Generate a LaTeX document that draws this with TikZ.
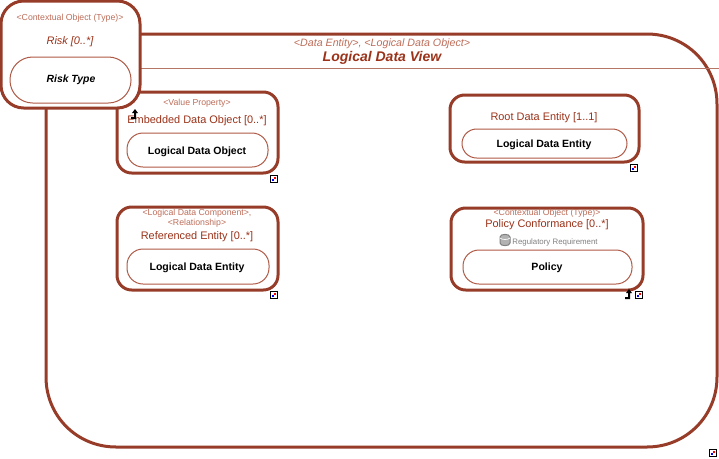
\documentclass[tikz,border=0pt]{standalone}
\usepackage{fontspec}
\usepackage{xcolor}
\setmainfont{Liberation Sans}
\definecolor{rust}{RGB}{150,60,40}
\definecolor{rustline}{RGB}{175,90,70}
\definecolor{rusttext}{RGB}{155,50,25}
\definecolor{stereo}{RGB}{190,110,90}
\tikzset{
  outerbox/.style={draw=rust,line width=2.25pt,fill=white},
  pillbox/.style={draw=rustline,line width=0.75pt,fill=white},
  stereotext/.style={text=stereo,font=\fontsize{6.55}{7.5}\selectfont,align=center,inner sep=0pt},
  roletext/.style={text=rusttext,font=\fontsize{8.2}{9}\selectfont,align=center,inner sep=0pt},
  typetext/.style={text=black,font=\fontsize{7.9}{9}\selectfont\bfseries,align=center,inner sep=0pt},
  linkmark/.pic={
    \draw[black,line width=0.75pt,fill=white] (-3.5,-3.5) rectangle (3.5,3.5);
    \fill[blue] (-2,-2) rectangle (0,0);
    \fill[red] (0,0) rectangle (2,2);
  },
  upmark/.pic={
    \fill[black] (-4,-2) -- (-1,-2) -- (-1,2) -- (-3,2) -- (0,6) -- (3,2) -- (1,2) -- (1,-4) -- (-4,-4) -- cycle;
  }
}
\begin{document}
\begin{tikzpicture}[x=0.75pt,y=0.75pt,yscale=-1,xscale=1]
\useasboundingbox (0,0) rectangle (719,458);

%Shape: Rounded Rect, view frame
\draw [outerbox] (46,104) .. controls (46,65) and (77,34) .. (116,34) -- (647,34) .. controls (686,34) and (717,65) .. (717,104) -- (717,377) .. controls (717,416) and (686,447) .. (647,447) -- (116,447) .. controls (77,447) and (46,416) .. (46,377) -- cycle ;
%Straight Lines, header rule
\draw [draw=rust!70,line width=0.75pt] (46,68.5) -- (719,68.5) ;

% Text Node
\draw (382,44) node (viewstereo) [stereotext,font=\fontsize{8}{9}\selectfont\itshape] {<Data Entity>, <Logical Data Object>};
% Text Node
\draw (382,58) node (viewtitle) [roletext,font=\fontsize{10.5}{12}\selectfont\bfseries\itshape] {Logical Data View};

%Shape: Rounded Rect, embedded
\draw [outerbox,rounded corners=11pt] (117,92) rectangle (278,173) ;
%Shape: Rounded Rect
\draw [pillbox,rounded corners=12pt] (127,133) rectangle (268,167) ;
% Text Node
\draw (197,103) node (embedstereo) [stereotext] {<Value Property>};
% Text Node
\draw (197,120.5) node (embedrole) [roletext] {Embedded Data Object [0..*]};
% Text Node
\draw (197,151.5) node (embedtype) [typetext] {Logical Data Object};

%Shape: Rounded Rect, root
\draw [outerbox,rounded corners=11pt] (450,95) rectangle (639,162) ;
%Shape: Rounded Rect
\draw [pillbox,rounded corners=11pt] (462,129) rectangle (627,158) ;
% Text Node
\draw (544,117.5) node (rootrole) [roletext] {Root Data Entity [1..1]};
% Text Node
\draw (544,144.5) node (roottype) [typetext] {Logical Data Entity};

%Shape: Rounded Rect, referenced
\draw [outerbox,rounded corners=11pt] (117,207) rectangle (278,290) ;
%Shape: Rounded Rect
\draw [pillbox,rounded corners=12pt] (127,249) rectangle (269,284) ;
% Text Node
\draw (197,218) node (refstereo) [stereotext] {<Logical Data Component>,\\<Relationship>};
% Text Node
\draw (197,236.5) node (refrole) [roletext] {Referenced Entity [0..*]};
% Text Node
\draw (197,267.5) node (reftype) [typetext] {Logical Data Entity};

%Shape: Rounded Rect, policy
\draw [outerbox,rounded corners=11pt] (451,208) rectangle (643,290) ;
%Shape: Rounded Rect
\draw [pillbox,rounded corners=12pt] (463,250) rectangle (632,284) ;
% Text Node
\draw (547,213) node (policystereo) [stereotext] {<Contextual Object (Type)>};
% Text Node
\draw (547,224.5) node (policyrole) [roletext] {Policy Conformance [0..*]};
%Shape: Can
\draw [draw=gray,fill=gray!60,line width=0.75pt] (500,237) .. controls (500,233.5) and (510,233.5) .. (510,237) -- (510,243) .. controls (510,246.5) and (500,246.5) .. (500,243) -- cycle ;
\draw [draw=white,line width=0.5pt] (500,238) .. controls (502,240) and (508,240) .. (510,238) ;
% Text Node
\draw (555,242) node (policyreq) [stereotext,text=gray,font=\fontsize{5.9}{7}\selectfont] {Regulatory Requirement};
% Text Node
\draw (547,267.5) node (policytype) [typetext] {Policy};

%Shape: Rounded Rect, risk
\draw [outerbox,rounded corners=17pt] (1,1) rectangle (140,108) ;
%Shape: Rounded Rect
\draw [pillbox,rounded corners=17pt] (10,57) rectangle (131,103) ;
% Text Node
\draw (70,18.5) node (riskstereo) [stereotext] {<Contextual Object (Type)>};
% Text Node
\draw (70,41.5) node (riskrole) [roletext,font=\fontsize{8.2}{9}\selectfont\itshape] {Risk [0..*]};
% Text Node
\draw (71,80) node (risktype) [typetext,font=\fontsize{7.8}{9}\selectfont\bfseries\itshape] {Risk Type};

%small marks
\pic at (135,115) {upmark};
\pic at (629,295) {upmark};
\pic at (274,179) {linkmark};
\pic at (634,168) {linkmark};
\pic at (274,295) {linkmark};
\pic at (639,295) {linkmark};
\pic at (713,453) {linkmark};

\end{tikzpicture}
\end{document}
